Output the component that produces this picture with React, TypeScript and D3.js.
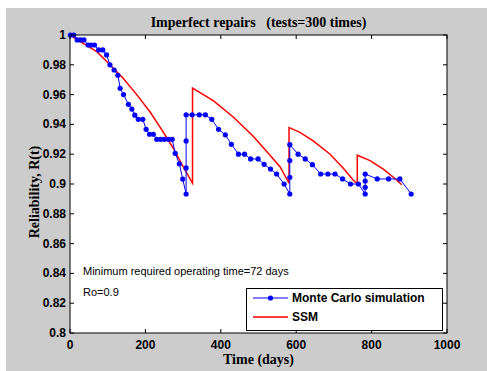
import React from 'react'
import * as d3 from 'd3'

const W = 487
const H = 371
const M = { left: 70, right: 447, top: 35, bottom: 333 }

// Monte Carlo simulation (dots)
const mcTime = [
  1, 10, 19, 28, 37, 48, 56, 65, 76, 87, 97, 106, 117, 127, 133, 142, 155, 164, 172, 181,
  193, 202, 211, 221, 230, 240, 250, 261, 271, 279, 290, 299, 308, 308, 308, 308,
  324, 343, 359, 376, 394, 412, 428, 447, 463, 479, 499, 515, 532, 548, 568, 583, 583, 583, 583,
  605, 624, 643, 665, 684, 703, 723, 744, 765, 783, 783, 783, 783, 815, 845, 875, 905,
]
const mcRel = [
  1.0, 1.0, 0.9967, 0.9967, 0.9967, 0.9933, 0.9933, 0.9933, 0.99, 0.99, 0.9866, 0.98, 0.9765, 0.973,
  0.9642, 0.96, 0.9535, 0.9503, 0.9462, 0.9434, 0.9434, 0.9367, 0.9334, 0.9334, 0.93, 0.93, 0.93,
  0.93, 0.93, 0.9206, 0.9136, 0.9033, 0.8933, 0.9108, 0.9289, 0.9464,
  0.9464, 0.9464, 0.9464, 0.9434, 0.9367, 0.933, 0.9266, 0.92, 0.92, 0.9168, 0.9168, 0.9132, 0.91,
  0.9067, 0.9, 0.8933, 0.9045, 0.9157, 0.9264,
  0.92, 0.9168, 0.913, 0.9067, 0.9067, 0.9067, 0.9034, 0.9, 0.9, 0.8933, 0.8978, 0.902, 0.9067,
  0.9034, 0.9034, 0.9034, 0.8933,
]

// SSM curve (with vertical jumps at repairs)
const ssmTime = [
  0, 35, 71, 106, 141, 177, 212, 247, 274, 300, 325,
  325, 380, 433, 486, 530, 557, 581,
  581, 610, 645, 690, 725, 751, 762,
  762, 796, 831, 858, 880,
]
const ssmRel = [
  1.0, 0.9944, 0.9888, 0.98, 0.971, 0.96, 0.9485, 0.935, 0.924, 0.9116, 0.9005,
  0.9643, 0.956, 0.945, 0.932, 0.9195, 0.9116, 0.9005,
  0.9378, 0.9347, 0.929, 0.92, 0.9105, 0.9027, 0.9,
  0.9193, 0.9157, 0.91, 0.9045, 0.8995,
]

const xTicks = [0, 200, 400, 600, 800, 1000]
const yTicks = [0.8, 0.82, 0.84, 0.86, 0.88, 0.9, 0.92, 0.94, 0.96, 0.98, 1]

const SANS = '"Liberation Sans", Arial, sans-serif'
const SERIF = '"Liberation Serif", "Times New Roman", serif'

export default function App() {
  const x = d3.scaleLinear().domain([0, 1000]).range([M.left, M.right])
  const y = d3.scaleLinear().domain([0.8, 1]).range([M.bottom, M.top])

  const mc = mcTime.map((t, i) => [t, mcRel[i]] as [number, number])
  const ssm = ssmTime.map((t, i) => [t, ssmRel[i]] as [number, number])
  const line = d3.line<[number, number]>().x(d => x(d[0])).y(d => y(d[1]))

  const tl = 4
  return (
    <div style={{ position: 'absolute', left: 0, top: 0 }}>
      <svg width={W} height={H} style={{ display: 'block' }}>
        <rect x={0} y={0} width={W} height={H} fill="#fff" />
        <rect x={6} y={8} width={W - 6} height={H - 8} fill="#cccccc" />
        <rect x={M.left} y={M.top} width={M.right - M.left} height={M.bottom - M.top} fill="#fff" />

        <defs>
          <clipPath id="plot">
            <rect x={M.left - 4} y={M.top - 4} width={M.right - M.left + 8} height={M.bottom - M.top + 8} />
          </clipPath>
        </defs>

        {/* ticks, all four sides, pointing in */}
        {xTicks.map(t => (
          <g key={'x' + t}>
            <line x1={x(t)} x2={x(t)} y1={M.bottom} y2={M.bottom - tl} stroke="#000" />
            <line x1={x(t)} x2={x(t)} y1={M.top} y2={M.top + tl} stroke="#000" />
            <text x={x(t)} y={349} textAnchor="middle" fontFamily={SANS} fontWeight="bold" fontSize={12}>
              {t}
            </text>
          </g>
        ))}
        {yTicks.map(t => (
          <g key={'y' + t}>
            <line x1={M.left} x2={M.left + tl} y1={y(t)} y2={y(t)} stroke="#000" />
            <line x1={M.right} x2={M.right - tl} y1={y(t)} y2={y(t)} stroke="#000" />
            <text x={66} y={y(t) + 4} textAnchor="end" fontFamily={SANS} fontWeight="bold" fontSize={12}>
              {d3.format('~g')(t)}
            </text>
          </g>
        ))}

        <g clipPath="url(#plot)">
          <path d={line(ssm) ?? ''} fill="none" stroke="#ff0000" strokeWidth={1.5} />
          <path d={line(mc) ?? ''} fill="none" stroke="#0000ff" strokeWidth={1} />
          {mc.map((d, i) => (
            <circle key={i} cx={x(d[0])} cy={y(d[1])} r={2.6} fill="#0000ff" />
          ))}
        </g>

        <rect x={M.left} y={M.top} width={M.right - M.left} height={M.bottom - M.top} fill="none" stroke="#000" strokeWidth={1} />

        <text x={83} y={275} fontFamily={SANS} fontSize={11}>Minimum required operating time=72 days</text>
        <text x={83} y={296} fontFamily={SANS} fontSize={11}>Ro=0.9</text>

        {/* legend */}
        <g>
          <rect x={246.5} y={288.5} width={196} height={42} fill="#fff" stroke="#000" strokeWidth={1} />
          <line x1={253} x2={288} y1={298} y2={298} stroke="#0000ff" />
          <circle cx={270.5} cy={298} r={2.6} fill="#0000ff" />
          <text x={292} y={302} fontFamily={SANS} fontWeight="bold" fontSize={12}>Monte Carlo simulation</text>
          <line x1={253} x2={288} y1={317} y2={317} stroke="#ff0000" strokeWidth={1.5} />
          <text x={292} y={321} fontFamily={SANS} fontWeight="bold" fontSize={12}>SSM</text>
        </g>

        <text x={(M.left + M.right) / 2} y={27} textAnchor="middle" fontFamily={SERIF} fontWeight="bold" fontSize={14} style={{ whiteSpace: 'pre' }}>
          {'Imperfect repairs   (tests=300 times)'}
        </text>
        <text x={(M.left + M.right) / 2} y={364} textAnchor="middle" fontFamily={SERIF} fontWeight="bold" fontSize={14}>
          Time (days)
        </text>
        <text transform={`translate(39,${(M.top + M.bottom) / 2 + 8}) rotate(-90)`} textAnchor="middle" fontFamily={SERIF} fontWeight="bold" fontSize={14}>
          Reliability, R(t)
        </text>
      </svg>
    </div>
  )
}
